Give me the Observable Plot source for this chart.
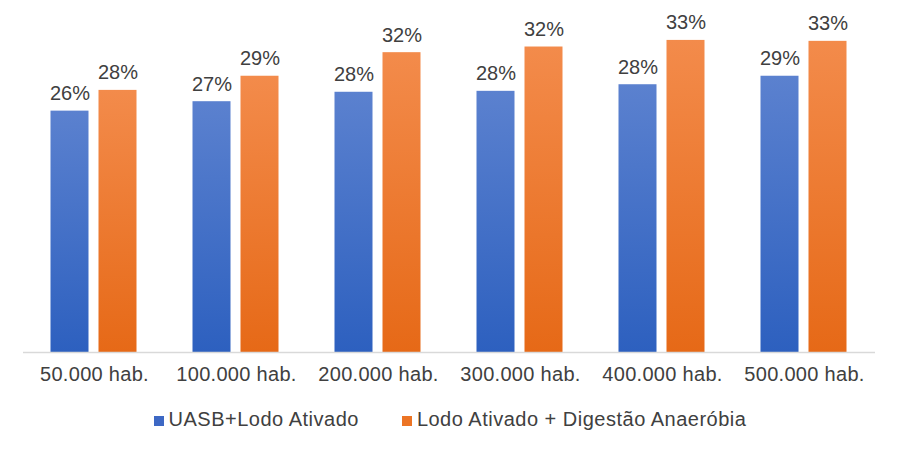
<!DOCTYPE html>
<html>
<head>
<meta charset="utf-8">
<script src="https://cdn.jsdelivr.net/npm/d3@7"></script>
<script src="https://cdn.jsdelivr.net/npm/@observablehq/plot@0.6"></script>
<style>
  body { margin: 0; background: #fff; font-family: "Liberation Sans", Arial, sans-serif; }
  #legend { display: flex; justify-content: center; align-items: center; padding-top: 12px; line-height: 24px; font-size: 20px; letter-spacing: 0.5px; color: #404040; padding-left: 2px; }
  #legend .item { display: flex; align-items: center; }
  #legend .sw { width: 10px; height: 10px; margin-right: 5px; margin-top: 3px; }
  #chart svg g[aria-label="fx-axis tick label"] text { letter-spacing: 0.3px; }
</style>
</head>
<body>
<div id="chart"></div>
<div id="legend"></div>
<script>
const categories = ["50.000 hab.", "100.000 hab.", "200.000 hab.", "300.000 hab.", "400.000 hab.", "500.000 hab."];
const seriesNames = ["UASB+Lodo Ativado", "Lodo Ativado + Digestão Anaeróbia"];
const uasbValues = [25.6, 26.6, 27.6, 27.7, 28.4, 29.3];
const lodoValues = [27.8, 29.3, 31.8, 32.4, 33.1, 33.0];
const legendColors = ["#3d68c4", "#ec7424"];

const data = [];
categories.forEach((c, i) => {
  data.push({cat: c, series: seriesNames[0], value: uasbValues[i]});
  data.push({cat: c, series: seriesNames[1], value: lodoValues[i]});
});

const chart = Plot.plot({
  width: 898,
  height: 395,
  marginLeft: 22.5,
  marginRight: 23.5,
  marginTop: 22,
  marginBottom: 43,
  style: {fontFamily: '"Liberation Sans", Arial, sans-serif', fontSize: "20px", color: "#404040", background: "#fff"},
  fx: {domain: categories, padding: 0, label: null, axis: "bottom", tickSize: 0, tickPadding: 14},
  x: {domain: seriesNames, paddingInner: 0.2083, paddingOuter: 0.5833, axis: null},
  y: {domain: [0, 35], axis: null},
  color: {domain: seriesNames, range: ["url(#gBlue)", "url(#gOrange)"]},
  marks: [
    Plot.barY(data, {fx: "cat", x: "series", y: "value", fill: "series",
      style: {filter: "drop-shadow(1px 1px 1.5px rgba(0,0,0,0.25))"}}),
    Plot.ruleY([0], {stroke: "#d9d9d9", strokeWidth: 1.5}),
    Plot.text(data, {fx: "cat", x: "series", y: "value", text: d => Math.round(d.value) + "%",
      lineAnchor: "bottom", dy: -11, fill: "#404040", fontSize: 20})
  ]
});

// gradient definitions used by the bar fills
const defs = d3.select(chart).insert("defs", ":first-child");
const grads = [["gBlue", "#5b81cf", "#2d60bf"], ["gOrange", "#f38b4b", "#e66917"]];
for (const [id, top, bottom] of grads) {
  const g = defs.append("linearGradient").attr("id", id).attr("x1", 0).attr("y1", 0).attr("x2", 0).attr("y2", 1);
  g.append("stop").attr("offset", "0%").attr("stop-color", top);
  g.append("stop").attr("offset", "100%").attr("stop-color", bottom);
}
document.getElementById("chart").appendChild(chart);

const legend = document.getElementById("legend");
seriesNames.forEach((name, i) => {
  const item = document.createElement("div");
  item.className = "item";
  if (i > 0) item.style.marginLeft = "43px";
  const sw = document.createElement("span");
  sw.className = "sw";
  sw.style.background = legendColors[i];
  const label = document.createElement("span");
  label.textContent = name;
  item.appendChild(sw);
  item.appendChild(label);
  legend.appendChild(item);
});
</script>
</body>
</html>
